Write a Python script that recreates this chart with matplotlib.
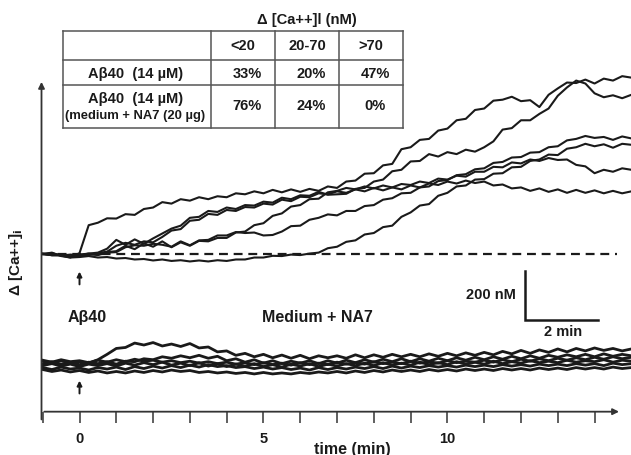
import numpy as np
import matplotlib.pyplot as plt

plt.rcParams['font.family'] = ['Liberation Sans', 'DejaVu Sans']
plt.rcParams['font.weight'] = 'bold'

INK = '#1a1a1a'

# sampling times of the recordings (min), 0 = application
time = np.arange(-1.0, 15.01, 0.25)

# delta [Ca++]i, A-beta40 alone (nM)
abeta_1 = [0, 6, -8, -14, 4, 118, 128, 146, 145, 163, 160, 184,
           190, 212, 206, 224, 218, 232, 224, 236, 232, 248, 244, 256,
           248, 262, 252, 264, 254, 266, 258, 276, 270, 296, 300, 328,
           330, 362, 368, 428, 436, 466, 470, 504, 512, 546, 552, 588,
           594, 626, 630, 642, 624, 628, 600, 650, 676, 700, 698, 712,
           696, 716, 708, 726, 720]
abeta_2 = [0, 4, -6, -2, -4, 2, 6, 22, 58, 38, 60, 42,
           64, 84, 104, 116, 148, 152, 176, 172, 190, 184, 200, 198,
           214, 210, 230, 224, 240, 238, 254, 242, 244, 246, 266, 270,
           296, 304, 338, 344, 378, 380, 408, 398, 416, 408, 426, 418,
           436, 460, 508, 514, 546, 546, 572, 594, 646, 680, 708, 696,
           656, 640, 648, 636, 650]
abeta_3 = [0, -4, -4, -10, -2, 2, -2, 8, 12, 34, 20, 44,
           30, 52, 28, 48, 34, 54, 52, 66, 66, 88, 92, 118,
           126, 156, 166, 194, 200, 224, 226, 252, 258, 270, 264, 276,
           268, 280, 272, 286, 282, 296, 290, 308, 304, 320, 316, 336,
           336, 356, 354, 374, 370, 386, 380, 392, 384, 386, 364, 358,
           330, 344, 336, 350, 344]
abeta_4 = [2, -5, -3, -10, -7, 0, -4, 6, 8, 28, 36, 34,
           42, 38, 30, 52, 36, 56, 58, 76, 76, 90, 86, 88,
           76, 78, 92, 114, 116, 140, 148, 162, 158, 176, 176, 196,
           200, 222, 228, 248, 250, 272, 276, 298, 302, 322, 326, 346,
           350, 372, 376, 394, 396, 414, 416, 436, 440, 464, 470, 482,
           474, 478, 466, 480, 472]
abeta_5 = [0, -4, -6, -14, -12, -8, -14, -12, -18, -16, -22, -20,
           -26, -22, -28, -25, -30, -26, -30, -25, -28, -22, -22, -14,
           -14, -7, -8, -2, -4, 2, 6, 24, 30, 50, 56, 80,
           86, 110, 116, 152, 170, 198, 204, 238, 250, 276, 280, 304,
           306, 328, 330, 354, 356, 380, 386, 406, 404, 430, 436, 450,
           440, 448, 434, 450, 446]
abeta_6 = [2, -2, -3, -10, -4, -4, 4, 10, 34, 46, 38, 52,
           48, 70, 96, 102, 136, 140, 164, 160, 180, 176, 192, 190,
           206, 202, 222, 216, 234, 232, 248, 244, 256, 250, 264, 256,
           270, 260, 272, 264, 280, 272, 288, 282, 296, 288, 300, 290,
           296, 280, 284, 268, 272, 258, 268, 254, 264, 250, 262, 250,
           260, 248, 258, 248, 256]

# delta [Ca++]i, A-beta40 in medium + NA7 (nM)
na7_1 = [8, 2, 10, 0, 6, 0, 14, 36, 60, 64, 82, 74,
         84, 70, 78, 68, 80, 62, 66, 46, 50, 32, 40, 26,
         36, 22, 33, 20, 32, 18, 30, 22, 30, 20, 34, 22,
         34, 24, 36, 26, 36, 26, 38, 28, 40, 30, 42, 32,
         44, 34, 48, 38, 52, 40, 54, 44, 58, 46, 60, 50,
         62, 52, 60, 50, 58]
na7_2 = [-2, 6, -4, 4, -6, 4, -2, 6, -4, 8, 6, 18,
         14, 26, 20, 30, 22, 32, 20, 28, 10, 18, 4, 14,
         0, 10, -2, 8, 0, 10, -2, 10, 0, 12, 2, 14,
         4, 16, 6, 18, 6, 18, 8, 20, 10, 22, 12, 24,
         14, 26, 16, 28, 18, 30, 20, 32, 24, 34, 26, 36,
         26, 38, 28, 36, 30]
na7_3 = [-10, -2, -12, -4, -14, -4, -10, -2, -12, 0, -8, 2,
         -6, 4, -8, 0, -10, 2, -12, -2, -14, -4, -12, -2,
         -14, -6, -16, -4, -12, -2, -14, -4, -12, -2, -10, 0,
         -10, 2, -8, 0, -8, 4, -6, 2, -6, 6, -4, 4,
         -4, 8, -2, 6, 0, 10, 2, 8, 2, 12, 4, 10,
         6, 14, 4, 12, 8]
na7_4 = [-18, -26, -16, -24, -20, -28, -18, -24, -16, -26, -14, -22,
         -12, -20, -10, -18, -8, -16, -6, -14, -10, -18, -14, -22,
         -16, -24, -18, -26, -20, -28, -18, -26, -18, -24, -16, -22,
         -14, -22, -12, -20, -12, -18, -10, -16, -10, -16, -8, -14,
         -8, -14, -6, -12, -6, -12, -4, -10, -4, -10, -2, -8,
         -2, -10, 0, -6, -2]
na7_5 = [-26, -34, -28, -36, -30, -38, -32, -40, -34, -40, -32, -38,
         -30, -36, -28, -34, -30, -38, -34, -40, -36, -42, -38, -44,
         -38, -44, -40, -44, -38, -42, -36, -40, -34, -40, -32, -38,
         -30, -36, -28, -34, -28, -34, -26, -32, -26, -32, -24, -30,
         -24, -30, -22, -28, -22, -28, -20, -26, -20, -26, -18, -24,
         -18, -24, -16, -22, -18]
na7_6 = [12, 4, 14, 6, 10, 2, 12, 4, 14, 6, 16, 8,
         12, 4, 10, 2, 8, 0, 6, -2, 4, -4, 2, -6,
         2, -6, 0, -8, 2, -6, 0, -6, 4, -4, 2, -4,
         6, -2, 4, -2, 8, 0, 6, 0, 10, 2, 8, 4,
         12, 4, 14, 6, 16, 8, 18, 10, 20, 12, 22, 14,
         24, 16, 26, 18, 24]

abeta_traces = [abeta_1, abeta_2, abeta_3, abeta_4, abeta_5, abeta_6]
na7_traces = [na7_1, na7_2, na7_3, na7_4, na7_5, na7_6]
na7_offset = -445   # vertical shift of the lower group

table_title = 'Δ [Ca++]l (nM)'
col_labels = ['<20', '20-70', '>70']
row_labels = ['Aβ40  (14 µM)', 'Aβ40  (14 µM)']
row_sublabel = '(medium + NA7 (20 µg)'
cells = [['33%', '20%', '47%'],
         ['76%', '24%', '0%']]

tick_labels = {0: '0', 5: '5', 10: '10'}

fig = plt.figure(figsize=(6.31, 4.56), dpi=100)
ax = fig.add_axes([41.5 / 631, 0.0950, 1 - 41.5 / 631, 0.7734])
ax.set_xlim(-1.033, 14.99)
ax.set_ylim(-643, 796)
for s in ax.spines.values():
    s.set_visible(False)

for tr in abeta_traces:
    ax.plot(time, tr, color=INK, lw=1.5)
for tr in na7_traces:
    ax.plot(time, np.array(tr) + na7_offset, color=INK, lw=2.0)

ax.hlines(0, -1.0, 14.6, colors=INK, lw=1.6, linestyles=(0, (4, 2.6)))

# axes with arrows
ax.annotate('', xy=(14.74, -643), xytext=(-1.033, -643),
            arrowprops=dict(arrowstyle='-|>', color='#333', lw=1.3, mutation_scale=9),
            annotation_clip=False)
ax.annotate('', xy=(-1.033, 714), xytext=(-1.033, -686),
            arrowprops=dict(arrowstyle='-|>', color='#333', lw=1.3, mutation_scale=9),
            annotation_clip=False)

ticks = np.arange(-1, 15)
ax.set_xticks(ticks)
ax.set_xticklabels([tick_labels.get(int(t), '') for t in ticks])
ax.tick_params(axis='x', direction='out', length=8, width=1.2, color='#444',
               pad=6, labelsize=10.5, labelcolor=INK)
ax.set_yticks([])

# application arrows
for y0 in (-135, na7_offset - 135):
    ax.annotate('', xy=(0, y0 + 75), xytext=(0, y0),
                arrowprops=dict(arrowstyle='-|>', color=INK, lw=1.4, mutation_scale=7))

# scale bar 2 min x 200 nM
sx, sy = 12.1, -269
ax.plot([sx, sx, sx + 2], [sy + 200, sy, sy], color=INK, lw=1.8, solid_joinstyle='miter')
ax.text(sx - 0.25, sy + 108, '200 nM', ha='right', va='center', fontsize=10.5, color=INK)
ax.text(sx + 1.05, sy - 45, '2 min', ha='center', va='center', fontsize=10.5, color=INK)

ax.text(0.2, -253, 'Aβ40', ha='center', va='center', fontsize=11.5, color=INK)
ax.text(6.46, -253, 'Medium + NA7', ha='center', va='center', fontsize=11.5, color=INK)

fig.text(352 / 631, 1 - 450 / 456, 'time (min)', ha='center', va='center',
         fontsize=11.5, color=INK)
fig.text(16 / 631, 1 - 262 / 456, r'Δ [Ca++]$_\mathbf{i}$', ha='center', va='center',
         rotation=90, fontsize=11, color=INK)

# table drawn in pixel coordinates
tab = fig.add_axes([0, 0, 1, 1])
tab.set_xlim(0, 631)
tab.set_ylim(456, 0)
tab.axis('off')
col_edges = [63, 211, 275, 339, 403]
row_edges = [32, 61, 86, 129]
tab.add_patch(plt.Rectangle((63, 32), 340, 97, facecolor='white', edgecolor='none'))
for x in col_edges:
    tab.plot([x, x], [row_edges[0], row_edges[-1]], color='#555', lw=1.1)
for y in row_edges:
    tab.plot([col_edges[0], col_edges[-1]], [y, y], color='#555', lw=1.1)

col_centers = [(a + b) / 2 for a, b in zip(col_edges[1:-1], col_edges[2:])]
tab.text(307, 20, table_title, ha='center', va='center', fontsize=10.6, color=INK)
for xc, lab in zip(col_centers, col_labels):
    tab.text(xc, 46.5, lab, ha='center', va='center', fontsize=10.5, color=INK)
row_y = [74, 106]
for r, vals in enumerate(cells):
    for xc, v in zip(col_centers, vals):
        tab.text(xc + 4, row_y[r], v, ha='center', va='center', fontsize=10.5, color=INK)
tab.text(136, 74, row_labels[0], ha='center', va='center', fontsize=10.5, color=INK)
tab.text(136, 99, row_labels[1], ha='center', va='center', fontsize=10.5, color=INK)
tab.text(135, 116, row_sublabel, ha='center', va='center', fontsize=9.4, color=INK)

fig.savefig('out.png', dpi=100)
